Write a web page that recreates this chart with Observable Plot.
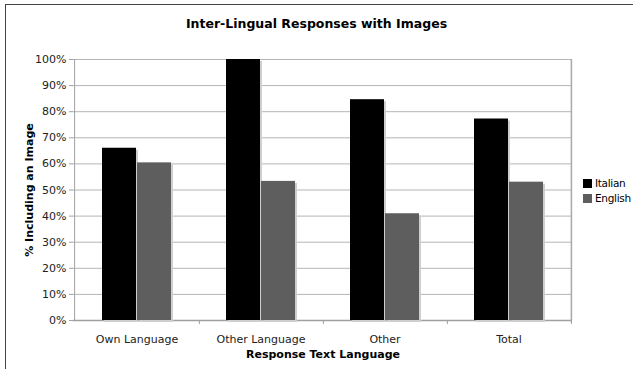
<!DOCTYPE html>
<html>
<head>
<meta charset="utf-8">
<script src="https://cdn.jsdelivr.net/npm/d3@7"></script>
<script src="https://cdn.jsdelivr.net/npm/@observablehq/plot@0.6"></script>
<style>
  html, body { margin: 0; padding: 0; background: #fff; overflow: hidden; }
  body { width: 633px; height: 369px; position: relative; font-family: "DejaVu Sans", Verdana, sans-serif; }
  #frame { position: absolute; left: 5px; top: 4px; width: 700px; height: 400px; border: 1.5px solid #444; box-sizing: border-box; }
  #title { position: absolute; left: 0; width: 633px; top: 16px; text-align: center; font-size: 12.5px; font-weight: bold; color: #000; }
  #chart { position: absolute; left: 0; top: 40px; }
  #legend { position: absolute; left: 583px; top: 176px; font-size: 10.5px; letter-spacing: -0.3px; color: #000; line-height: 15px; white-space: nowrap; }
  #legend .sw { display: inline-block; width: 9px; height: 9px; margin-right: 3px; vertical-align: -1px; }
</style>
</head>
<body>
<div id="frame"></div>
<div id="title">Inter-Lingual Responses with Images</div>
<div id="chart"></div>
<div id="legend"></div>
<script>
// Share of responses that include an image, by response text language
const categories = ["Own Language", "Other Language", "Other", "Total"];
const italian = [66.0, 100, 84.6, 77.2];
const english = [60.4, 53.3, 40.9, 53.0];
const seriesNames = ["Italian", "English"];
const seriesColors = ["#000000", "#5e5e5e"];
const yTicks = [0, 10, 20, 30, 40, 50, 60, 70, 80, 90, 100];

const rows = categories.map((c, i) => ({category: c, italian: italian[i], english: english[i]}));

const half = 35; // half of each category band, one bar per side

const chart = Plot.plot({
  width: 633,
  height: 320,
  marginLeft: 73,
  marginRight: 61,
  marginTop: 19,
  marginBottom: 40,
  style: {fontFamily: "DejaVu Sans, Verdana, sans-serif", fontSize: "11px", color: "#000", background: "transparent"},
  x: {
    domain: categories,
    paddingInner: 0.44,
    paddingOuter: 0.22,
    label: "Response Text Language",
    labelAnchor: "center",
    labelOffset: 37,
    tickSize: 0,
    tickPadding: 15
  },
  y: {
    domain: [0, 100],
    ticks: yTicks,
    tickFormat: d => d + "%",
    label: "% Including an Image",
    labelAnchor: "center",
    labelOffset: 48,
    tickSize: 4,
    tickPadding: 3
  },
  marks: [
    // horizontal grid
    Plot.ruleY(yTicks.slice(1), {stroke: "#b4b4b4", strokeWidth: 1}),
    // plot area edges
    Plot.ruleX([0], {x: () => categories[0], dx: -62.4, y1: 0, y2: 100, stroke: "#a0a0a0"}),
    Plot.ruleX(categories, {dx: 62.4, y1: 0, y2: 0, insetBottom: -4, stroke: "#a0a0a0"}),
    Plot.ruleX([categories[3]], {dx: 62.4, y1: 0, y2: 100, stroke: "#a8a8a8", strokeWidth: 1.5}),
    Plot.ruleY([0], {stroke: "#a0a0a0", strokeWidth: 1.5}),
    // drop shadows
    Plot.barY(rows, {x: "category", y: "italian", insetRight: half, fill: "#cfcfcf", dx: 2, dy: 2}),
    Plot.barY(rows, {x: "category", y: "english", insetLeft: half, fill: "#cfcfcf", dx: 2, dy: 2}),
    // bars
    Plot.barY(rows, {x: "category", y: "italian", insetRight: half, fill: seriesColors[0]}),
    Plot.barY(rows, {x: "category", y: "english", insetLeft: half, fill: seriesColors[1]})
  ]
});

// axis titles: bold, no direction arrows
chart.querySelectorAll("[aria-label='x-axis label'] text, [aria-label='y-axis label'] text").forEach(t => {
  t.setAttribute("font-weight", "bold");
  t.textContent = t.textContent.replace(/[\s]*[↑↓→←][\s]*/g, "").trim();
});
chart.querySelectorAll("[aria-label='y-axis tick'], [aria-label='y-axis tick'] path").forEach(t => t.setAttribute("stroke", "#a0a0a0"));
chart.querySelectorAll("[aria-label='y-axis tick label'], [aria-label='x-axis tick label']").forEach(g => g.setAttribute("fill", "#222"));

document.getElementById("chart").appendChild(chart);

const legend = document.getElementById("legend");
seriesNames.forEach((name, i) => {
  const row = document.createElement("div");
  row.innerHTML = `<span class="sw" style="background:${seriesColors[i]}"></span>${name}`;
  legend.appendChild(row);
});
</script>
</body>
</html>
